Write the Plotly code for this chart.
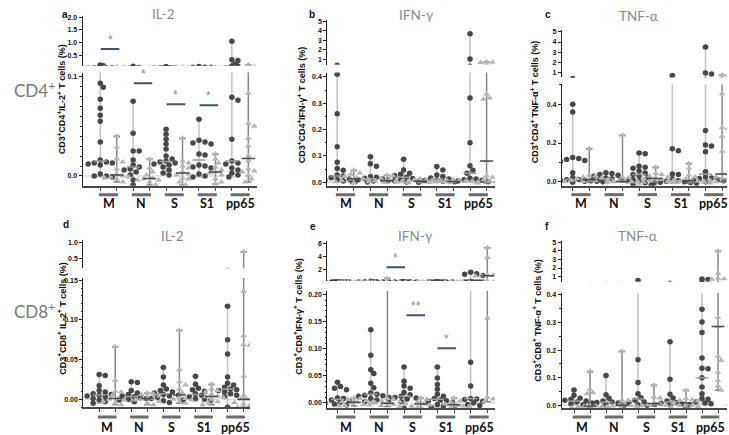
import plotly.graph_objects as go

W, H = 729, 435
groups = ["M", "N", "S", "S1", "pp65"]

# ---------------- data (values in %) ----------------
# each list: one sub-list per group (M, N, S, S1, pp65); circles = first column, triangles = second column
cd4_il2_circles = [
    [0.12, 0.093, 0.089, 0.077, 0.068, 0.061, 0.055, 0.034, 0.016, 0.014, 0.013, 0.013, 0.012, 0.011, 0.002, 0.0, 0.0, -0.001],
    [0.075, 0.043, 0.025, 0.025, 0.016, 0.011, 0.009, 0.007, 0.006, 0.004, 0.001, -0.004, -0.009],
    [0.047, 0.042, 0.037, 0.032, 0.027, 0.020, 0.017, 0.015, 0.014, 0.013, 0.012, 0.011, 0.009, 0.006, 0.003, 0.001],
    [0.057, 0.036, 0.034, 0.033, 0.032, 0.022, 0.021, 0.011, 0.010, 0.009, 0.008, 0.002, 0.000, -0.001],
    [1.05, 0.33, 0.30, 0.15, 0.079, 0.076, 0.037, 0.015, 0.013, 0.012, 0.008, 0.006, 0.003, 0.001, -0.001],
]
cd4_il2_triangles = [
    [0.040, 0.029, 0.017, 0.014, 0.007, 0.002, 0.0, -0.001, -0.001, -0.002, -0.003, -0.006],
    [0.017, 0.008, 0.004, 0.001, -0.002, -0.003, -0.004, -0.004, -0.006, -0.009],
    [0.038, 0.015, 0.013, 0.010, 0.008, 0.004, 0.002, 0.001, -0.002, -0.003, -0.006, -0.009],
    [0.022, 0.017, 0.013, 0.009, 0.006, 0.004, 0.003, 0.001, -0.003, -0.006, -0.008],
    [0.13, 0.083, 0.053, 0.050, 0.038, 0.030, 0.020, 0.015, 0.007, 0.005, 0.004, 0.001, -0.003, -0.006],
]
cd4_ifng_circles = [
    [0.41, 0.26, 0.135, 0.076, 0.052, 0.046, 0.028, 0.024, 0.017, 0.012, 0.010, 0.008, 0.005, 0.003, 0.001],
    [0.097, 0.070, 0.061, 0.021, 0.019, 0.015, 0.012, 0.010, 0.008, 0.005, 0.002, 0.001],
    [0.087, 0.047, 0.034, 0.030, 0.026, 0.019, 0.014, 0.010, 0.006, 0.003, 0.001],
    [0.060, 0.047, 0.028, 0.022, 0.016, 0.012, 0.009, 0.007, 0.004, 0.002, 0.0],
    [3.7, 1.05, 0.32, 0.15, 0.063, 0.046, 0.034, 0.015, 0.012, 0.010, 0.008, 0.005, 0.002],
]
cd4_ifng_triangles = [
    [0.046, 0.035, 0.030, 0.022, 0.017, 0.013, 0.012, 0.010, 0.006, 0.002, -0.003],
    [0.027, 0.025, 0.015, 0.010, 0.007, 0.005, 0.004, 0.002, 0.000, -0.002],
    [0.012, 0.010, 0.008, 0.006, 0.004, 0.003, 0.002, 0.001, 0.0, -0.002],
    [0.009, 0.008, 0.006, 0.004, 0.003, 0.002, 0.001, 0.0, -0.001],
    [0.75, 0.72, 0.70, 0.335, 0.32, 0.315, 0.081, 0.025, 0.019, 0.010, 0.005, 0.002, -0.003],
]
cd4_tnfa_circles = [
    [0.40, 0.36, 0.125, 0.12, 0.115, 0.11, 0.105, 0.046, 0.022, 0.012, 0.010, 0.009, 0.007, 0.005, 0.004, 0.002, 0.001, 0.0, -0.002],
    [0.046, 0.042, 0.038, 0.033, 0.028, 0.020, 0.015, 0.012, 0.010, 0.007, 0.005, 0.003, 0.0],
    [0.148, 0.145, 0.080, 0.075, 0.070, 0.055, 0.045, 0.038, 0.030, 0.022, 0.012, 0.005, -0.005, -0.012, -0.017],
    [0.70, 0.17, 0.16, 0.04, 0.038, 0.015, 0.005, 0.002, 0.0, -0.002, -0.004, -0.006, -0.008],
    [3.5, 0.95, 0.85, 0.265, 0.19, 0.185, 0.155, 0.052, 0.025, 0.020, 0.017, 0.012, 0.008, 0.005, 0.002, 0.0],
]
cd4_tnfa_triangles = [
    [0.17, 0.035, 0.030, 0.025, 0.020, 0.015, 0.010, 0.009, 0.007, 0.005, 0.003, 0.001, 0.0],
    [0.24, 0.025, 0.022, 0.005, 0.002, 0.0, 0.0, -0.001, -0.002, -0.003],
    [0.075, 0.043, 0.038, 0.030, 0.025, 0.018, 0.015, 0.012, 0.008, 0.005, 0.002, 0.0],
    [0.094, 0.07, 0.035, 0.025, 0.015, 0.005, 0.002, 0.0, -0.002, -0.004, -0.006],
    [0.75, 0.72, 0.455, 0.28, 0.275, 0.235, 0.158, 0.042, 0.040, 0.025, 0.018, 0.015, 0.010, 0.008, 0.005, 0.003, 0.0],
]
cd8_il2_circles = [
    [0.031, 0.030, 0.017, 0.011, 0.009, 0.007, 0.006, 0.005, 0.004, 0.003, 0.001, -0.001, -0.003, -0.005],
    [0.022, 0.021, 0.011, 0.008, 0.006, 0.004, 0.003, 0.002, 0.001, 0.0, -0.001, -0.003],
    [0.040, 0.028, 0.018, 0.013, 0.011, 0.009, 0.008, 0.006, 0.005, 0.004, 0.002, 0.001, -0.002, -0.004],
    [0.029, 0.019, 0.014, 0.012, 0.010, 0.007, 0.005, 0.003, 0.001, 0.0, -0.001, -0.002],
    [0.117, 0.075, 0.057, 0.028, 0.020, 0.018, 0.015, 0.013, 0.012, 0.011, 0.009, 0.007, 0.005, 0.003, -0.010],
]
cd8_il2_triangles = [
    [0.066, 0.024, 0.010, 0.009, 0.005, 0.001, 0.0, -0.001, -0.003, -0.005, -0.007],
    [0.008, 0.007, 0.006, 0.004, 0.002, 0.001, 0.0, -0.001, -0.003, -0.005, -0.007],
    [0.087, 0.037, 0.022, 0.018, 0.013, 0.008, 0.003, 0.001, 0.0, -0.001, -0.003, -0.005],
    [0.019, 0.013, 0.011, 0.009, 0.006, 0.004, 0.003, 0.002, 0.0, -0.003, -0.005, -0.007],
    [0.70, 0.136, 0.080, 0.069, 0.068, 0.029, 0.005, 0.0, 0.0, -0.002, -0.004, -0.006, -0.008, -0.010, -0.010],
]
cd8_ifng_circles = [
    [0.038, 0.030, 0.027, 0.024, 0.009, 0.008, 0.005, 0.003, 0.001, 0.0, -0.002, -0.004],
    [0.135, 0.088, 0.061, 0.054, 0.036, 0.028, 0.018, 0.016, 0.014, 0.013, 0.012, 0.010, 0.008, 0.005, 0.002],
    [0.066, 0.040, 0.031, 0.027, 0.019, 0.015, 0.012, 0.010, 0.009, 0.007, 0.005, 0.002, -0.010],
    [0.066, 0.046, 0.034, 0.025, 0.016, 0.012, 0.008, 0.005, 0.004, 0.003, 0.001, -0.003, -0.006, -0.008],
    [1.5, 1.3, 1.2, 1.0, 0.075, 0.031, 0.008, 0.007, 0.006, 0.003, 0.0, -0.003, -0.005],
]
cd8_ifng_triangles = [
    [0.009, 0.008, 0.006, 0.004, 0.002, 0.001, 0.0, -0.001, -0.003, -0.005, -0.006],
    [0.6, 0.008, 0.006, 0.004, 0.002, 0.0, -0.001, -0.002, -0.003, -0.004, -0.005, -0.006, -0.007],
    [0.009, 0.006, 0.001, -0.002, -0.004, -0.008, -0.010],
    [0.009, 0.004, 0.001, -0.002, -0.005, -0.006, -0.007, -0.008],
    [5.3, 3.8, 1.1, 1.05, 1.0, 0.98, 0.95, 0.157, 0.010, 0.007, 0.002],
]
cd8_tnfa_circles = [
    [0.055, 0.036, 0.025, 0.022, 0.018, 0.015, 0.012, 0.010, 0.008, 0.005, 0.002],
    [0.108, 0.038, 0.025, 0.015, 0.012, 0.010, 0.008, 0.005, 0.002, 0.0],
    [0.55, 0.165, 0.082, 0.042, 0.027, 0.018, 0.013, 0.010, 0.002, 0.0],
    [0.23, 0.094, 0.040, 0.026, 0.015, 0.010, 0.007, 0.005, 0.003, 0.001],
    [0.72, 0.66, 0.348, 0.302, 0.264, 0.171, 0.134, 0.132, 0.100, 0.066, 0.042, 0.024, 0.022, 0.012, 0.008, 0.005, 0.002],
]
cd8_tnfa_triangles = [
    [0.122, 0.058, 0.045, 0.042, -0.002, -0.003, -0.004, -0.005, -0.006, -0.007, -0.008],
    [0.196, 0.018, 0.017, 0.002, 0.0, -0.001, -0.003, -0.005, -0.006],
    [0.072, 0.030, 0.026, 0.008, 0.005, 0.002, 0.0, -0.002],
    [0.054, 0.024, 0.020, 0.018, 0.015, 0.008, 0.005, 0.0, -0.002, -0.005, -0.007],
    [4.0, 1.4, 0.8, 0.75, 0.7, 0.318, 0.286, 0.178, 0.162, 0.12, 0.09, 0.07, 0.054],
]

# significance marks: group index, bar level, label
cd4_il2_sig_groups = [0, 1, 2, 3]
cd4_il2_sig_levels = [0.75, 0.093, 0.072, 0.071]
cd4_il2_sig_labels = ["*", "*", "*", "*"]
cd8_ifng_sig_groups = [1, 2, 3]
cd8_ifng_sig_levels = [2.3, 0.162, 0.101]
cd8_ifng_sig_labels = ["*", "**", "*"]

# tick labels
cd4_il2_ticks_up = [0.5, 1.0, 1.5, 2.0]
cd4_il2_ticks_lo = [0.0, 0.1]
cd4_ifng_ticks_up = [1, 2, 3, 4, 5]
cd4_ifng_ticks_lo = [0.0, 0.1, 0.2, 0.3, 0.4]
cd4_tnfa_ticks_up = [1, 2, 3, 4, 5]
cd4_tnfa_ticks_lo = [0.0, 0.2, 0.4]
cd8_il2_ticks_up = [0.5, 1.0]
cd8_il2_ticks_lo = [0.0, 0.05, 0.10, 0.15]
cd8_ifng_ticks_up = [2, 4, 6]
cd8_ifng_ticks_lo = [0.0, 0.05, 0.10, 0.15, 0.20]
cd8_tnfa_ticks_up = [1, 2, 3, 4, 5]
cd8_tnfa_ticks_lo = [0.0, 0.1, 0.2, 0.3, 0.4]

# ---------------- layout (pixel geometry) ----------------
panels = [
    dict(letter="a", title="IL-2", circ=cd4_il2_circles, tri=cd4_il2_triangles,
         ytitle="CD3<sup>+</sup>CD4<sup>+</sup>IL-2<sup>+</sup> T cells (%)",
         left=82.7, c0=108.5, sp=32.9, right=257,
         up=(63, 13, 0.098, 2.05), lo=(184, 70, -0.0098, 0.1039),
         tup=cd4_il2_ticks_up, tlo=cd4_il2_ticks_lo, fup=".1f", flo=".1f", mlo=0.01,
         sig=(cd4_il2_sig_groups, cd4_il2_sig_levels, cd4_il2_sig_labels, [0.05, 0.05, 0.05, 0.05]),
         tpos=(163, 11), lpos=(65, 12), ypos=(62, 97), row=0),
    dict(letter="b", title="IFN-γ", circ=cd4_ifng_circles, tri=cd4_ifng_triangles,
         ytitle="CD3<sup>+</sup>CD4<sup>+</sup>IFN-γ<sup>+</sup> T cells (%)",
         left=327.3, c0=345.5, sp=33.2, right=495,
         up=(62, 17, 0.483, 5.13), lo=(184, 70, -0.0132, 0.417),
         tup=cd4_ifng_ticks_up, tlo=cd4_ifng_ticks_lo, fup="d", flo=".1f", mlo=0.05,
         sig=None, tpos=(417, 12), lpos=(312, 12), ypos=(302, 103), row=0),
    dict(letter="c", title="TNF-α", circ=cd4_tnfa_circles, tri=cd4_tnfa_triangles,
         ytitle="CD3<sup>+</sup>CD4<sup>+</sup> TNF-α<sup>+</sup> T cells (%)",
         left=562, c0=581, sp=33.2, right=727,
         up=(75, 27, 0.51, 5.2), lo=(184, 82, -0.0205, 0.5026),
         tup=cd4_tnfa_ticks_up, tlo=cd4_tnfa_ticks_lo, fup="d", flo=".1f", mlo=0.1,
         sig=None, tpos=(638, 13), lpos=(548, 12), ypos=(535, 100), row=0),
    dict(letter="d", title="IL-2", circ=cd8_il2_circles, tri=cd8_il2_triangles,
         ytitle="CD3<sup>+</sup>CD8<sup>+</sup> IL-2<sup>+</sup> T cells (%)",
         left=83.3, c0=107.2, sp=32.1, right=250,
         up=(267, 239, 0.19, 1.06), lo=(407, 277, -0.01, 0.1525),
         tup=cd8_il2_ticks_up, tlo=cd8_il2_ticks_lo, fup=".1f", flo=".2f", mlo=0.01,
         sig=None, tpos=(172, 235), lpos=(66, 223), ypos=(62, 318), row=1),
    dict(letter="e", title="IFN-γ", circ=cd8_ifng_circles, tri=cd8_ifng_triangles,
         ytitle="CD3<sup>+</sup>CD8<sup>+</sup>IFN-γ<sup>+</sup> T cells (%)",
         left=327.3, c0=345.8, sp=33.3, right=495,
         up=(280, 240, 0.154, 6.3), lo=(408, 290, -0.0099, 0.2067),
         tup=cd8_ifng_ticks_up, tlo=cd8_ifng_ticks_lo, fup="d", flo=".2f", mlo=0.01,
         sig=(cd8_ifng_sig_groups, cd8_ifng_sig_levels, cd8_ifng_sig_labels, [0.5, 0.1, 0.03]),
         tpos=(415, 235), lpos=(313, 225), ypos=(298, 316), row=1),
    dict(letter="f", title="TNF-α", circ=cd8_tnfa_circles, tri=cd8_tnfa_triangles,
         ytitle="CD3<sup>+</sup>CD8<sup>+</sup> TNF-α<sup>+</sup> T cells (%)",
         left=561.7, c0=582, sp=32, right=727,
         up=(280.5, 240, 0.42, 5.116), lo=(408, 292, -0.0108, 0.4072),
         tup=cd8_tnfa_ticks_up, tlo=cd8_tnfa_ticks_lo, fup="d", flo=".1f", mlo=0.05,
         sig=None, tpos=(637, 235), lpos=(547, 225), ypos=(537, 320), row=1),
]

row_label_y = [87, 310]
row_labels = ["CD4<sup>+</sup>", "CD8<sup>+</sup>"]
underline_y = [193, 417]
grouplabel_y = [202, 427]

COL_OFF = 0.25
CIRC_COLOR = "#474747"
TRI_COLOR = "#b4b4b4"
CIRC_WHISK = "#c2c2c2"
TRI_WHISK = "#858585"
SIG_COLOR = "#3a5478"
MARK_D = 5.5


def px(v, p):
    pb, pt, vb, vt = p["lo"]
    if v <= vt:
        return pb - (v - vb) / (vt - vb) * (pb - pt)
    pb, pt, vb, vt = p["up"]
    return pb - (v - vb) / (vt - vb) * (pb - pt)


def swarm(vals, p):
    """deterministic beeswarm: horizontal offsets (in px) avoiding overlaps"""
    placed = []
    offs = [0.0] * len(vals)
    order = sorted(range(len(vals)), key=lambda i: -vals[i])
    step = MARK_D * 0.55
    for i in order:
        y = px(vals[i], p)
        k = 0
        while True:
            cand = (k + 1) // 2 * step * (1 if k % 2 else -1) if k else 0.0
            ok = all((cand - ox) ** 2 + (y - oy) ** 2 >= (MARK_D * 0.85) ** 2 for ox, oy in placed)
            if ok:
                break
            k += 1
        placed.append((cand, y))
        offs[i] = cand
    return offs


def median(v):
    s = sorted(v)
    n = len(s)
    return s[n // 2] if n % 2 else 0.5 * (s[n // 2 - 1] + s[n // 2])


def sfx(n):
    return "" if n == 1 else str(n)


fig = go.Figure()
layout = {}
shapes = []
annotations = []

for k, p in enumerate(panels):
    xr = ((p["left"] - p["c0"]) / p["sp"], (p["right"] - p["c0"]) / p["sp"])
    xdom = [p["left"] / W, p["right"] / W]
    col_pos = []
    for g in range(5):
        col_pos += [g - COL_OFF, g + COL_OFF]
    for seg, n in (("lo", 2 * k + 1), ("up", 2 * k + 2)):
        s = sfx(n)
        pb, pt, vb, vt = p[seg]
        ydom = [1 - pb / H, 1 - pt / H]
        ticks = p["tlo"] if seg == "lo" else p["tup"]
        fmt = p["flo"] if seg == "lo" else p["fup"]
        layout["xaxis" + s] = dict(
            domain=xdom, range=list(xr), anchor="y" + s, showgrid=False, zeroline=False,
            showline=(seg == "lo"), linecolor="#4a4a4a", linewidth=2,
            ticks="outside" if seg == "lo" else "", tickvals=col_pos, ticklen=3,
            tickcolor="#4a4a4a", showticklabels=False, visible=(seg == "lo"), fixedrange=True)
        ya = dict(
            domain=ydom, range=[vb, vt], anchor="x" + s, showgrid=False, zeroline=False,
            showline=True, linecolor="#222222", linewidth=1.2, ticks="outside", ticklen=3,
            tickcolor="#222222", tickvals=ticks, ticktext=[format(t, fmt) for t in ticks],
            tickfont=dict(family="Liberation Sans", size=7, color="#111111", weight="bold"),
            fixedrange=True)
        if seg == "lo":
            ya["minor"] = dict(ticks="outside", ticklen=1.5, dtick=p["mlo"], tickcolor="#222222")
        layout["yaxis" + s] = ya
        xa, yaname = "x" + s, "y" + s

        # dashed zero reference line
        if seg == "lo":
            shapes.append(dict(type="line", xref=xa + " domain", yref=yaname, x0=0, x1=1, y0=0, y1=0,
                               line=dict(color="#c8c8c8", width=1, dash="dash"), layer="below"))

        for kind in ("circ", "tri"):
            data = p[kind]
            wx, wy, mx, my, px_, py_ = [], [], [], [], [], []
            for g, vals in enumerate(data):
                cx = g - COL_OFF if kind == "circ" else g + COL_OFF
                lo_v, hi_v, md = min(vals), max(vals), median(vals)
                cap = 0.1
                wx += [cx, cx, None, cx - cap, cx + cap, None, cx - cap, cx + cap, None]
                wy += [lo_v, hi_v, None, lo_v, lo_v, None, hi_v, hi_v, None]
                mx += [cx - 0.2, cx + 0.2, None]
                my += [md, md, None]
                offs = swarm(vals, p)
                px_ += [cx + o / p["sp"] for o in offs]
                py_ += list(vals)
            wcol = CIRC_WHISK if kind == "circ" else TRI_WHISK
            fig.add_trace(go.Scatter(x=wx, y=wy, xaxis=xa, yaxis=yaname, mode="lines",
                                     line=dict(color=wcol, width=1.5), hoverinfo="skip"))
            if kind == "circ":
                mk = dict(symbol="circle", size=MARK_D, color=CIRC_COLOR, line=dict(width=0))
            else:
                mk = dict(symbol="triangle-up", size=MARK_D + 0.5, color=TRI_COLOR, line=dict(width=0))
            fig.add_trace(go.Scatter(x=px_, y=py_, xaxis=xa, yaxis=yaname, mode="markers",
                                     marker=mk, hoverinfo="skip"))
            mcol = "#9c9c9c" if kind == "circ" else "#4a4a4a"
            fig.add_trace(go.Scatter(x=mx, y=my, xaxis=xa, yaxis=yaname, mode="lines",
                                     line=dict(color=mcol, width=1.5), hoverinfo="skip"))

        # significance bars
        if p["sig"] is not None:
            sg, sl, st, so = p["sig"]
            for g, lev, lab, off in zip(sg, sl, st, so):
                in_lo = lev <= p["lo"][3]
                if (seg == "lo") != in_lo:
                    continue
                fig.add_trace(go.Scatter(x=[g + off - 0.28, g + off + 0.28], y=[lev, lev],
                                         xaxis=xa, yaxis=yaname, mode="lines",
                                         line=dict(color=SIG_COLOR, width=2), hoverinfo="skip"))
                annotations.append(dict(x=g + off, y=lev, xref=xa, yref=yaname, text=lab,
                                        showarrow=False, yshift=9, xanchor="center",
                                        font=dict(family="Liberation Sans", size=12, color="#8a8a8a")))

    # group labels and underlines
    r = p["row"]
    for g, name in enumerate(groups):
        shapes.append(dict(type="line", xref="x" + sfx(2 * k + 1), yref="paper",
                           x0=g - 0.29, x1=g + 0.29, y0=1 - underline_y[r] / H, y1=1 - underline_y[r] / H,
                           line=dict(color="#6c6c6c", width=3)))
        annotations.append(dict(x=g, y=1 - grouplabel_y[r] / H, xref="x" + sfx(2 * k + 1), yref="paper",
                                text=name, showarrow=False, xanchor="center", yanchor="middle",
                                font=dict(family="Lato", size=12.5, color="#111111", weight="bold")))
    # titles, letters, y titles
    annotations.append(dict(x=p["tpos"][0] / W, y=1 - p["tpos"][1] / H, xref="paper", yref="paper",
                            text=p["title"], showarrow=False, xanchor="center", yanchor="middle",
                            font=dict(family="Lato", size=13.5, color="#8a8a8a")))
    annotations.append(dict(x=p["lpos"][0] / W, y=1 - p["lpos"][1] / H, xref="paper", yref="paper",
                            text="<b>" + p["letter"] + "</b>", showarrow=False,
                            xanchor="center", yanchor="middle",
                            font=dict(family="Liberation Sans", size=10, color="#111111")))
    annotations.append(dict(x=p["ypos"][0] / W, y=1 - p["ypos"][1] / H, xref="paper", yref="paper",
                            text="<b>" + p["ytitle"] + "</b>", showarrow=False, textangle=-90,
                            xanchor="center", yanchor="middle",
                            font=dict(family="Liberation Sans", size=9, color="#111111")))

for r in range(2):
    annotations.append(dict(x=34 / W, y=1 - row_label_y[r] / H, xref="paper", yref="paper",
                            text=row_labels[r], showarrow=False, xanchor="center", yanchor="middle",
                            font=dict(family="Lato", size=17, color="#7a7a7a")))

fig.update_layout(width=W, height=H, margin=dict(l=0, r=0, t=0, b=0),
                  plot_bgcolor="white", paper_bgcolor="white", showlegend=False,
                  shapes=shapes, annotations=annotations, **layout)

fig.write_html("out.html", config={"displayModeBar": False},
               post_script="document.body.style.margin='0';")
